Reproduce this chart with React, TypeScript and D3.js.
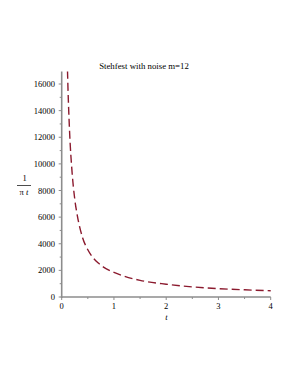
import React from "react";
import * as d3 from "d3";

// values (Stehfest inversion, m=12)
const tValues = [0.1, 0.12, 0.15, 0.2, 0.25, 0.3, 0.4, 0.5, 0.6, 0.7, 0.8, 1.0, 1.2, 1.5, 2.0, 2.5, 3.0, 3.5, 4.0];
const fValues = [18800, 15700, 12500, 9300, 7350, 6100, 4450, 3550, 2950, 2550, 2250, 1850, 1560, 1250, 960, 760, 630, 540, 470];
const xTicks = [0, 1, 2, 3, 4];
const yTicks = [0, 2000, 4000, 6000, 8000, 10000, 12000, 14000, 16000];

const W = 295;
const H = 382;
const font = "'Liberation Serif', 'Times New Roman', serif";

export default function App() {
  const x = d3.scaleLinear().domain([0, 4]).range([61.7, 270.7]);
  const y = d3.scaleLinear().domain([0, 16940]).range([297, 71.5]);

  const points = tValues.map((t, i) => ({ t, v: fValues[i] }));
  const line = d3
    .line<{ t: number; v: number }>()
    .x(d => x(d.t))
    .y(d => y(d.v))
    .curve(d3.curveMonotoneX);

  const xMinor = d3.range(0.5, 4, 1);
  const yMinor = d3.range(1000, 17000, 2000);
  const axisColor = "#8c8c8c";

  return (
    <svg width={W} height={H} style={{ position: "absolute", left: 0, top: 0, background: "#fff" }}>
      <defs>
        <clipPath id="plot">
          <rect x={x(0)} y={y(16940)} width={x(4) - x(0) + 2} height={y(0) - y(16940)} />
        </clipPath>
      </defs>

      <text x={144} y={69} textAnchor="middle" fontFamily={font} fontSize={8.8} fill="#000">
        Stehfest with noise m=12
      </text>

      {/* curve */}
      <path
        d={line(points) ?? ""}
        fill="none"
        stroke="#8b1a2e"
        strokeWidth={1.4}
        strokeDasharray="8,4"
        clipPath="url(#plot)"
      />

      {/* axes */}
      <line x1={x(0)} x2={x(0)} y1={y(16940)} y2={y(0) + 1} stroke={axisColor} strokeWidth={1.6} />
      <line x1={x(0) - 1} x2={x(4)} y1={y(0)} y2={y(0)} stroke={axisColor} strokeWidth={1.6} />

      {xTicks.map(t => (
        <g key={`x-${t}`}>
          <line x1={x(t)} x2={x(t)} y1={y(0)} y2={y(0) + 3} stroke={axisColor} strokeWidth={1} />
          <text x={x(t)} y={309} textAnchor="middle" fontFamily={font} fontSize={8.5} fill="#000">
            {t}
          </text>
        </g>
      ))}
      {xMinor.map(t => (
        <line key={`xm-${t}`} x1={x(t)} x2={x(t)} y1={y(0)} y2={y(0) + 2} stroke={axisColor} strokeWidth={1} />
      ))}

      {yTicks.map(v => (
        <g key={`y-${v}`}>
          <line x1={x(0) - 3} x2={x(0)} y1={y(v)} y2={y(v)} stroke={axisColor} strokeWidth={1} />
          <text x={55} y={y(v) + 3} textAnchor="end" fontFamily={font} fontSize={8.5} fill="#000">
            {v}
          </text>
        </g>
      ))}
      {yMinor.map(v => (
        <line key={`ym-${v}`} x1={x(0) - 2} x2={x(0)} y1={y(v)} y2={y(v)} stroke={axisColor} strokeWidth={1} />
      ))}

      {/* axis labels */}
      <text x={166.5} y={319.5} textAnchor="middle" fontFamily={font} fontSize={8.5} fontStyle="italic" fill="#000">
        t
      </text>
      <text x={24.5} y={181} textAnchor="middle" fontFamily={font} fontSize={8.5} fill="#000">
        1
      </text>
      <line x1={17} x2={31} y1={185.5} y2={185.5} stroke="#000" strokeWidth={0.7} />
      <text x={24} y={195} textAnchor="middle" fontFamily={font} fontSize={8.5} fill="#000">
        π <tspan fontStyle="italic">t</tspan>
      </text>
    </svg>
  );
}
